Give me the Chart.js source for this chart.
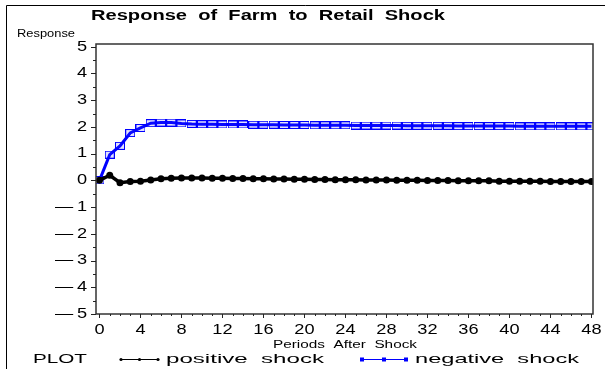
<!DOCTYPE html>
<html>
<head>
<meta charset="utf-8">
<title>Response of Farm to Retail Shock</title>
<script src="https://cdn.jsdelivr.net/npm/chart.js@4.4.1/dist/chart.umd.min.js"></script>
<style>
  html, body { margin: 0; padding: 0; background: #fff; }
  #chart { display: block; }
</style>
</head>
<body>
<canvas id="chart" width="605" height="369"></canvas>
<script>
// periods after the shock
const periods = [
  0, 1, 2, 3, 4, 5, 6, 7, 8, 9, 10, 11, 12, 13, 14, 15, 16, 17, 18, 19, 20, 21, 22, 23, 24,
  25, 26, 27, 28, 29, 30, 31, 32, 33, 34, 35, 36, 37, 38, 39, 40, 41, 42, 43, 44, 45, 46, 47, 48
];

const positiveShock = [
  0, 0.19, -0.09, -0.04, -0.03, 0.01, 0.06, 0.08, 0.09, 0.09, 0.09, 0.08, 0.08, 0.07, 0.07,
  0.06, 0.06, 0.05, 0.05, 0.04, 0.04, 0.03, 0.03, 0.02, 0.02, 0.02, 0.01, 0.01, 0.01, 0,
  0, 0, -0.01, -0.01, -0.01, -0.02, -0.02, -0.02, -0.02, -0.03, -0.03, -0.03, -0.03, -0.03,
  -0.04, -0.04, -0.04, -0.04, -0.04
];

const negativeShock = [
  0, 0.96, 1.29, 1.77, 1.96, 2.14, 2.16, 2.16, 2.13, 2.11, 2.10, 2.10, 2.09, 2.09, 2.09,
  2.08, 2.08, 2.08, 2.07, 2.07, 2.07, 2.06, 2.06, 2.06, 2.06, 2.05, 2.05, 2.05, 2.05, 2.05,
  2.04, 2.04, 2.04, 2.04, 2.04, 2.03, 2.03, 2.03, 2.03, 2.03, 2.03, 2.02, 2.02, 2.02, 2.02,
  2.02, 2.02, 2.02, 2.02
];

const xTicks = [0, 4, 8, 12, 16, 20, 24, 28, 32, 36, 40, 44, 48];
const yTicks = [-5, -4, -3, -2, -1, 0, 1, 2, 3, 4, 5];

const FONT = '"Liberation Sans", Arial, sans-serif';
const BLUE = '#0000ff';

// open blue box used as the marker of the negative shock series
function makeBox(w, h) {
  const c = document.createElement('canvas');
  c.width = w;
  c.height = h;
  const g = c.getContext('2d');
  g.fillStyle = 'rgba(60, 60, 255, 0.15)';
  g.fillRect(0, 0, w, h);
  g.strokeStyle = BLUE;
  g.lineWidth = 1;
  g.strokeRect(0.5, 0.5, w - 1, h - 1);
  return c;
}
const boxMarker = makeBox(10, 8);

// text squeezed/stretched horizontally to span [left, right]
function fitText(ctx, text, left, right, cy, font) {
  ctx.save();
  ctx.font = font;
  ctx.textBaseline = 'middle';
  ctx.textAlign = 'left';
  const w = ctx.measureText(text).width;
  ctx.translate(left, cy);
  ctx.scale((right - left) / w, 1);
  ctx.fillText(text, 0, 0);
  ctx.restore();
}

// text with a fixed horizontal stretch
function wideText(ctx, text, x, cy, font, stretch, align) {
  ctx.save();
  ctx.font = font;
  ctx.textBaseline = 'middle';
  ctx.textAlign = align;
  ctx.translate(x, cy);
  ctx.scale(stretch, 1);
  ctx.fillText(text, 0, 0);
  ctx.restore();
}

function yLabel(v) {
  return v < 0 ? '\u2014\u2009' + Math.abs(v) : String(v);
}

const decorations = {
  id: 'sasFrame',
  afterDraw(chart) {
    const ctx = chart.ctx;
    const area = chart.chartArea;
    const xs = chart.scales.x;
    const ys = chart.scales.y;
    ctx.save();
    ctx.fillStyle = '#000';

    // outer page frame
    ctx.strokeStyle = '#000';
    ctx.lineWidth = 1;
    ctx.beginPath();
    ctx.moveTo(6.5, 369);
    ctx.lineTo(6.5, 5.5);
    ctx.lineTo(605, 5.5);
    ctx.stroke();

    // plot box
    ctx.strokeStyle = '#333';
    ctx.lineWidth = 1.5;
    ctx.strokeRect(area.left, area.top, area.right - area.left, area.bottom - area.top);

    // y ticks: majors at integers, minors at halves
    ctx.lineWidth = 1;
    ctx.strokeStyle = '#222';
    ctx.beginPath();
    for (let i = 0; i < yTicks.length; i++) {
      const py = Math.round(ys.getPixelForValue(yTicks[i])) + 0.5;
      ctx.moveTo(area.left - 5, py);
      ctx.lineTo(area.left, py);
      if (i < yTicks.length - 1) {
        const my = Math.round(ys.getPixelForValue(yTicks[i] + 0.5)) + 0.5;
        ctx.moveTo(area.left - 3, my);
        ctx.lineTo(area.left, my);
      }
    }
    ctx.stroke();

    // x ticks: majors every 4 periods, minors every period
    ctx.beginPath();
    periods.forEach(p => {
      const px = Math.round(xs.getPixelForValue(p)) + 0.5;
      const len = xTicks.includes(p) ? 4 : 2;
      ctx.moveTo(px, area.bottom);
      ctx.lineTo(px, area.bottom + len);
    });
    ctx.stroke();

    // tick labels
    yTicks.forEach(v => {
      wideText(ctx, yLabel(v), 87, ys.getPixelForValue(v), '14px ' + FONT, 1.3, 'right');
    });
    xTicks.forEach(v => {
      wideText(ctx, String(v), xs.getPixelForValue(v), 330, '14px ' + FONT, 1.3, 'center');
    });

    // titles
    fitText(ctx, 'Response  of  Farm  to  Retail  Shock', 91, 445, 16, 'bold 14px ' + FONT);
    fitText(ctx, 'Response', 17, 75, 34, '10px ' + FONT);
    fitText(ctx, 'Periods  After  Shock', 273, 417, 345, '10px ' + FONT);

    // legend
    const ly = 359;
    fitText(ctx, 'PLOT', 33, 87, ly, '13px ' + FONT);
    ctx.strokeStyle = '#000';
    ctx.lineWidth = 1;
    ctx.beginPath();
    ctx.moveTo(121, ly + 0.5);
    ctx.lineTo(158, ly + 0.5);
    ctx.stroke();
    [121, 139.5, 158].forEach(x => {
      ctx.beginPath();
      ctx.arc(x, ly + 0.5, 1.6, 0, Math.PI * 2);
      ctx.fill();
    });
    fitText(ctx, 'positive  shock', 166, 324, ly, '13px ' + FONT);

    ctx.strokeStyle = BLUE;
    ctx.fillStyle = BLUE;
    ctx.beginPath();
    ctx.moveTo(361, ly + 0.5);
    ctx.lineTo(407, ly + 0.5);
    ctx.stroke();
    [362, 384, 406].forEach(x => {
      ctx.fillRect(x - 2, ly - 1.5, 4, 4);
    });
    ctx.fillStyle = '#000';
    fitText(ctx, 'negative  shock', 415, 579, ly, '13px ' + FONT);

    ctx.restore();
  }
};

const toPoints = vals => periods.map((p, i) => ({ x: p, y: vals[i] }));

new Chart(document.getElementById('chart'), {
  type: 'line',
  data: {
    datasets: [
      {
        label: 'positive shock',
        data: toPoints(positiveShock),
        borderColor: '#000',
        backgroundColor: '#000',
        borderWidth: 3.5,
        pointStyle: 'circle',
        pointRadius: 3.5,
        pointBorderWidth: 0,
        pointBackgroundColor: '#000',
        tension: 0
      },
      {
        label: 'negative shock',
        data: toPoints(negativeShock),
        borderColor: BLUE,
        backgroundColor: BLUE,
        borderWidth: 3,
        pointStyle: boxMarker,
        tension: 0
      }
    ]
  },
  options: {
    responsive: false,
    devicePixelRatio: 1,
    animation: false,
    layout: { padding: { left: 96, top: 44, right: 12, bottom: 55 } },
    plugins: {
      legend: { display: false },
      title: { display: false },
      tooltip: { enabled: false }
    },
    scales: {
      x: { type: 'linear', min: -0.34, max: 48.15, display: false },
      y: { type: 'linear', min: -5, max: 5.1, display: false }
    }
  },
  plugins: [decorations]
});
</script>
</body>
</html>
